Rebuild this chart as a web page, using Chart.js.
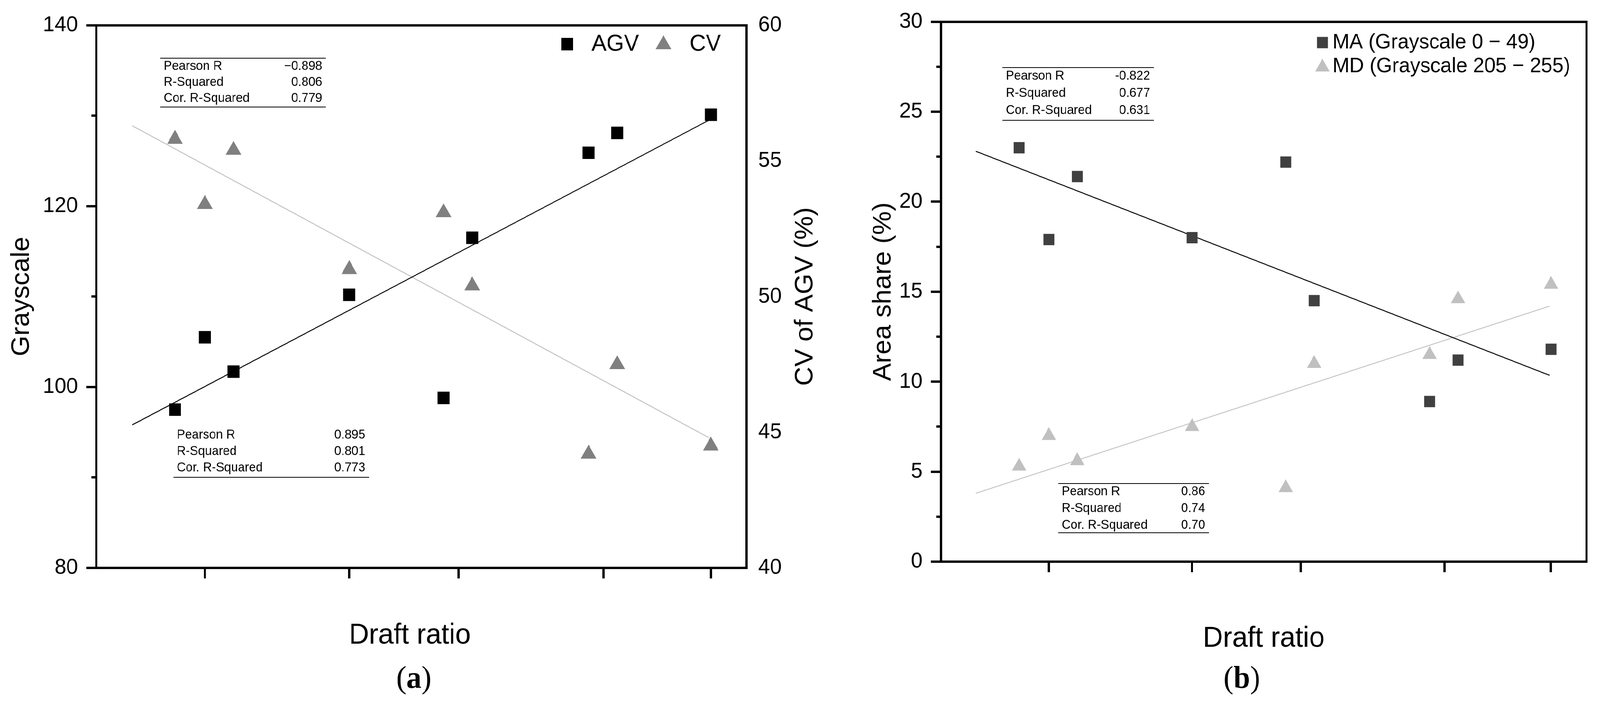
<!DOCTYPE html>
<html>
<head>
<meta charset="utf-8">
<script src="https://cdn.jsdelivr.net/npm/chart.js@4.4.1/dist/chart.umd.min.js"></script>
<style>
  html, body { margin: 0; padding: 0; background: #fff; overflow: hidden; }
  #page { position: absolute; left: 0; top: 0; width: 4271px; height: 1805px; transform-origin: 0 0; }
  canvas { position: absolute; top: 0; }
  #chartA { left: 0; }
  #chartB { left: 2135px; }
</style>
</head>
<body>
<div id="page">
<canvas id="chartA" width="2200" height="1805"></canvas>
<canvas id="chartB" width="2136" height="1805"></canvas>
</div>
<script>
// positions on the (unlabelled) draft ratio axis
const draftPos = [12.1, 16.7, 21.1, 38.9, 53.4, 57.8, 75.7, 80.1, 94.5];
const draftTicks = [16.7, 38.9, 55.7, 78.0, 94.5];

// panel (a)
const agv = [97.5, 105.5, 101.7, 110.2, 98.8, 116.5, 125.9, 128.1, 130.1];
const cv = [55.8, 53.4, 55.4, 51.0, 53.1, 50.4, 44.2, 47.5, 44.5];
const fitXa = [5.5, 94.2];
const agvFit = [95.8, 129.5];
const cvFit = [56.3, 44.8];

// panel (b)
const ma = [23.0, 17.9, 21.4, 18.0, 22.2, 14.5, 8.9, 11.2, 11.8];
const md = [5.3, 7.0, 5.6, 7.5, 4.1, 11.0, 11.5, 14.6, 15.4];
const fitXb = [5.4, 94.3];
const maFit = [22.8, 10.35];
const mdFit = [3.8, 14.2];

// fit statistics
const statLabels = ['Pearson R', 'R-Squared', 'Cor. R-Squared'];
const cvStats = ['\u22120.898', '0.806', '0.779'];
const agvStats = ['0.895', '0.801', '0.773'];
const maStats = ['-0.822', '0.677', '0.631'];
const mdStats = ['0.86', '0.74', '0.70'];

const FONT = "'Liberation Sans', Arial, Helvetica, sans-serif";
const SERIF = "'Liberation Serif', 'Times New Roman', serif";

// the figure is laid out at 4271x1805; stretch it to whatever the window really is
(function fitPage() {
    const sx = window.innerWidth / 4271, sy = window.innerHeight / 1805;
    if (Math.abs(sx - 1) > 0.002 || Math.abs(sy - 1) > 0.002) {
        document.getElementById('page').style.transform = 'scale(' + sx + ',' + sy + ')';
    }
})();

function pts(xs, ys) {
    return xs.map((x, i) => ({x: x, y: ys[i]}));
}

function line(ctx, x0, y0, x1, y1) {
    ctx.beginPath();
    ctx.moveTo(x0, y0);
    ctx.lineTo(x1, y1);
    ctx.stroke();
}

function drawStats(ctx, box, values) {
    ctx.strokeStyle = '#000';
    ctx.lineWidth = 2;
    if (box.topLine) line(ctx, box.x0, box.top, box.x1, box.top);
    line(ctx, box.x0, box.bottom, box.x1, box.bottom);
    ctx.font = '33px ' + FONT;
    ctx.fillStyle = '#000';
    ctx.textBaseline = 'middle';
    statLabels.forEach((lab, i) => {
        const y = box.row0 + i * box.rowGap;
        ctx.textAlign = 'left';
        ctx.fillText(lab, box.x0 + 9, y);
        ctx.textAlign = 'right';
        ctx.fillText(values[i], box.x1 - 10, y);
    });
}

function square(ctx, x, y, side, color) {
    ctx.fillStyle = color;
    ctx.fillRect(x - side / 2, y - side / 2, side, side);
}

function triangle(ctx, x, y, r, color) {
    // same geometry as Chart.js 'triangle' point style
    ctx.fillStyle = color;
    ctx.beginPath();
    for (let k = 0; k < 3; k++) {
        const a = k * 2 * Math.PI / 3;
        const px = x + Math.sin(a) * r, py = y - Math.cos(a) * r;
        if (k === 0) ctx.moveTo(px, py); else ctx.lineTo(px, py);
    }
    ctx.closePath();
    ctx.fill();
}

function xTitle(ctx, cx, cy) {
    ctx.fillStyle = '#000';
    ctx.font = '74px ' + FONT;
    ctx.textAlign = 'center';
    ctx.textBaseline = 'middle';
    ctx.fillText('Draft ratio', cx, cy);
}

function panelLetter(ctx, letter, cx, cy) {
    ctx.textBaseline = 'middle';
    ctx.textAlign = 'left';
    ctx.fillStyle = '#000';
    const reg = '80px ' + SERIF, bold = 'bold 80px ' + SERIF;
    ctx.font = reg;
    const wp = ctx.measureText('(').width, wq = ctx.measureText(')').width;
    ctx.font = bold;
    const wl = ctx.measureText(letter).width;
    let x = cx - (wp + wl + wq) / 2;
    ctx.font = reg; ctx.fillText('(', x, cy); x += wp;
    ctx.font = bold; ctx.fillText(letter, x, cy); x += wl;
    ctx.font = reg; ctx.fillText(')', x, cy);
}

function overlay(draw) {
    return {
        id: 'overlay',
        afterDraw(chart) {
            const ctx = chart.ctx;
            ctx.save();
            draw(ctx, chart);
            ctx.restore();
        }
    };
}

const axisLine = {width: 6, color: '#000'};
const tickFont = {family: FONT, size: 56};

function xAxes(height) {
    return {
        x: {
            type: 'linear', position: 'bottom', min: 0, max: 100,
            afterBuildTicks: (s) => { s.ticks = draftTicks.map(v => ({value: v})); },
            ticks: {display: false},
            grid: {drawOnChartArea: false, tickLength: 27, tickWidth: 6, lineWidth: 6, color: '#000'},
            border: axisLine,
            afterFit: (s) => { s.height = height; }
        },
        xTop: {
            type: 'linear', position: 'top', min: 0, max: 100,
            ticks: {display: false},
            grid: {drawOnChartArea: false, drawTicks: false, lineWidth: 6, color: '#000'},
            border: axisLine,
            afterFit: (s) => { s.height = 0; }
        }
    };
}

function leftAxes(min, max, major, minor, title, titlePad, width) {
    return {
        y: {
            type: 'linear', position: 'left', weight: 1, min: min, max: max,
            ticks: {stepSize: major, padding: 22, color: '#000', font: tickFont},
            grid: {drawOnChartArea: false, tickLength: 27, tickWidth: 6, lineWidth: 6, color: '#000'},
            border: axisLine,
            title: {display: true, text: title, color: '#000',
                    font: {family: FONT, size: 68}, padding: {top: titlePad, bottom: 0}},
            afterFit: (s) => { s.width = width; }
        },
        yMinor: {
            type: 'linear', position: 'left', weight: 0, min: min, max: max,
            ticks: {display: false, stepSize: minor},
            grid: {drawOnChartArea: false, tickLength: 13, tickWidth: 6, lineWidth: 6, color: '#000'},
            border: {display: false},
            afterFit: (s) => { s.width = 0; }
        }
    };
}

const baseOptions = {
    responsive: false,
    animation: false,
    devicePixelRatio: 1,
    events: [],
    plugins: {legend: {display: false}, tooltip: {enabled: false}}
};

// ---------- panel (a) ----------
const cvBox = {x0: 428, x1: 870, top: 149, row0: 170, rowGap: 41, bottom: 274, topLine: true};
const agvBox = {x0: 463, x1: 985, row0: 1114, rowGap: 42, bottom: 1222, topLine: false};

new Chart(document.getElementById('chartA'), {
    type: 'scatter',
    data: {
        datasets: [{
            label: 'AGV', data: pts(draftPos, agv), yAxisID: 'y',
            pointStyle: 'rect', pointRadius: 22.6, backgroundColor: '#000', borderWidth: 0, order: 1
        }, {
            label: 'CV', data: pts(draftPos, cv), yAxisID: 'y2',
            pointStyle: 'triangle', pointRadius: 24, backgroundColor: '#808080', borderWidth: 0, order: 1
        }, {
            label: 'AGV fit', data: pts(fitXa, agvFit), yAxisID: 'y', showLine: true,
            pointRadius: 0, borderColor: '#000', borderWidth: 2.5, order: 2
        }, {
            label: 'CV fit', data: pts(fitXa, cvFit), yAxisID: 'y2', showLine: true,
            pointRadius: 0, borderColor: '#c4c4c4', borderWidth: 2.5, order: 2
        }]
    },
    options: Object.assign({}, baseOptions, {
        layout: {padding: {top: 57, left: 0, right: 0, bottom: 0}},
        scales: Object.assign(xAxes(351), leftAxes(80, 140, 20, 10, 'Grayscale', 17, 257), {
            y2: {
                type: 'linear', position: 'right', min: 40, max: 60,
                ticks: {stepSize: 5, padding: 31, color: '#000', font: tickFont},
                grid: {drawOnChartArea: false, drawTicks: false, lineWidth: 6, color: '#000'},
                border: axisLine,
                afterFit: (s) => { s.width = 207; }
            }
        })
    }),
    plugins: [overlay((ctx, chart) => {
        const a = chart.chartArea;
        drawStats(ctx, cvBox, cvStats);
        drawStats(ctx, agvBox, agvStats);
        // legend
        square(ctx, 1514, 113, 32, '#000');
        triangle(ctx, 1771, 114, 24, '#808080');
        ctx.fillStyle = '#000';
        ctx.font = '60px ' + FONT;
        ctx.textAlign = 'left';
        ctx.textBaseline = 'middle';
        ctx.fillText('AGV', 1579, 113);
        ctx.fillText('CV', 1841, 113);
        // right axis title, reading upwards
        ctx.save();
        ctx.translate(2150, (a.top + a.bottom) / 2);
        ctx.rotate(-Math.PI / 2);
        ctx.textAlign = 'center';
        ctx.font = '68px ' + FONT;
        ctx.fillText('CV of AGV (%)', 0, 0);
        ctx.restore();
        xTitle(ctx, 1094, 1628);
        panelLetter(ctx, 'a', 1105, 1740);
    })]
});

// ---------- panel (b) ----------
const maBox = {x0: 541, x1: 945, top: 173, row0: 195, rowGap: 44, bottom: 308, topLine: true};
const mdBox = {x0: 690, x1: 1092, top: 1238, row0: 1259, rowGap: 43, bottom: 1364, topLine: true};

new Chart(document.getElementById('chartB'), {
    type: 'scatter',
    data: {
        datasets: [{
            label: 'MA (Grayscale 0 \u2212 49)', data: pts(draftPos, ma), yAxisID: 'y',
            pointStyle: 'rect', pointRadius: 20.5, backgroundColor: '#404040', borderWidth: 0, order: 1
        }, {
            label: 'MD (Grayscale 205 \u2212 255)', data: pts(draftPos, md), yAxisID: 'y',
            pointStyle: 'triangle', pointRadius: 22, backgroundColor: '#c0c0c0', borderWidth: 0, order: 1
        }, {
            label: 'MA fit', data: pts(fitXb, maFit), yAxisID: 'y', showLine: true,
            pointRadius: 0, borderColor: '#000', borderWidth: 2.5, order: 2
        }, {
            label: 'MD fit', data: pts(fitXb, mdFit), yAxisID: 'y', showLine: true,
            pointRadius: 0, borderColor: '#c4c4c4', borderWidth: 2.5, order: 2
        }]
    },
    options: Object.assign({}, baseOptions, {
        layout: {padding: {top: 49, left: 0, right: 0, bottom: 0}},
        scales: Object.assign(xAxes(367), leftAxes(0, 30, 5, 2.5, 'Area share (%)', 182, 377), {
            yR: {
                type: 'linear', position: 'right', min: 0, max: 30,
                ticks: {display: false},
                grid: {drawOnChartArea: false, drawTicks: false, lineWidth: 6, color: '#000'},
                border: axisLine,
                afterFit: (s) => { s.width = 36; }
            }
        })
    }),
    plugins: [overlay((ctx, chart) => {
        const a = chart.chartArea;
        drawStats(ctx, maBox, maStats);
        drawStats(ctx, mdBox, mdStats);
        const ds = chart.data.datasets;
        square(ctx, 1395, 109, 29, '#404040');
        triangle(ctx, 1395, 172, 22, '#c0c0c0');
        ctx.fillStyle = '#000';
        ctx.font = '54px ' + FONT;
        ctx.textAlign = 'left';
        ctx.textBaseline = 'middle';
        ctx.fillText(ds[0].label, 1422, 109);
        ctx.fillText(ds[1].label, 1422, 170);
        xTitle(ctx, (a.left + a.right) / 2, 1636);
        panelLetter(ctx, 'b', 1180, 1740);
    })]
});
</script>
</body>
</html>
